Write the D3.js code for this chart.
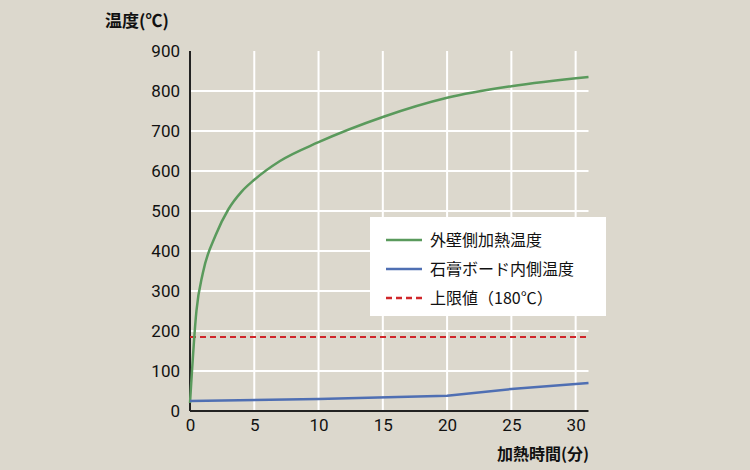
<!DOCTYPE html>
<html><head><meta charset="utf-8">
<script src="https://cdn.jsdelivr.net/npm/d3@7"></script>
<style>body{margin:0;background:#dcd8cd;}text{font-family:"Noto Sans CJK JP","Noto Sans",sans-serif;}</style>
</head><body><svg id="c" width="750" height="470"></svg>
<script>
const xTicks=[0,5,10,15,20,25,30];
const yTicks=[0,100,200,300,400,500,600,700,800,900];
const outerT=[0,0.5,1,2,3,4,5,7,10,15,20,25,31];
const outerV=[20,250,345,440,505,548,578,625,672,735,783,812,835];
const innerT=[0,10,20,25,31];
const innerV=[25,30,38,55,70];
const limitT=[0,31];
const limitV=[185,185];
const names=["外壁側加熱温度","石膏ボード内側温度","上限値（180℃）"];
const colors=["#5a9a5c","#4f6fb3","#d0262a"];

const svg=d3.select("#c");
svg.append("rect").attr("width",750).attr("height",470).attr("fill","#dcd8cd");
const x=d3.scaleLinear().domain([0,31]).range([190,588.5]);
const y=d3.scaleLinear().domain([0,900]).range([411,51]);
svg.append("g").selectAll("line").data(xTicks.slice(1)).join("line")
 .attr("x1",d=>x(d)).attr("x2",d=>x(d)).attr("y1",y(0)).attr("y2",y(900))
 .attr("stroke","#fff").attr("stroke-width",2);
svg.append("g").selectAll("line").data(yTicks.slice(1,-1)).join("line")
 .attr("x1",x(0)).attr("x2",x(31)).attr("y1",d=>y(d)).attr("y2",d=>y(d))
 .attr("stroke","#fff").attr("stroke-width",2);
const xa=svg.append("g").attr("transform",`translate(0,${y(0)})`).call(d3.axisBottom(x).tickValues(xTicks).tickSize(0).tickPadding(8));
const ya=svg.append("g").attr("transform",`translate(${x(0)},0)`).call(d3.axisLeft(y).tickValues(yTicks).tickSize(0).tickPadding(10));
[xa,ya].forEach(a=>{a.select(".domain").attr("stroke","#222").attr("stroke-width",2);a.selectAll("text").attr("font-size",17).attr("fill","#111").style("font-family","Roboto,'Noto Sans',sans-serif");});
ya.select(".domain").attr("d",`M0,${y(0)}V${y(900)}`);
xa.select(".domain").attr("d",`M${x(0)},0H${x(31)}`);
const line=d3.line().x(d=>x(d[0])).y(d=>y(d[1]));
svg.append("path").attr("d",line(limitT.map((t,i)=>[t,limitV[i]]))).attr("stroke",colors[2]).attr("stroke-width",2).attr("stroke-dasharray","6,4").attr("fill","none");
svg.append("path").attr("d",d3.line().x(d=>x(d[0])).y(d=>y(d[1])).curve(d3.curveMonotoneX)(outerT.map((t,i)=>[t,outerV[i]]))).attr("stroke",colors[0]).attr("stroke-width",2.5).attr("fill","none");
svg.append("path").attr("d",line(innerT.map((t,i)=>[t,innerV[i]]))).attr("stroke",colors[1]).attr("stroke-width",2.5).attr("fill","none");
svg.append("rect").attr("x",370).attr("y",217).attr("width",236).attr("height",99).attr("fill","#fff");
names.forEach((n,i)=>{
 const yy=240+i*29;
 svg.append("line").attr("x1",386).attr("x2",422).attr("y1",yy).attr("y2",yy).attr("stroke",colors[i]).attr("stroke-width",2.5).attr("stroke-dasharray",i==2?"6,4":null);
 svg.append("text").attr("x",430).attr("y",yy+6).attr("font-size",16).attr("fill","#111").text(n);
});
svg.append("text").attr("x",105).attr("y",27).attr("font-size",17).attr("font-weight","bold").attr("fill","#111").text("温度(℃)");
svg.append("text").attr("x",589).attr("y",460).attr("text-anchor","end").attr("font-size",16).attr("font-weight","bold").attr("fill","#111").text("加熱時間(分)");
</script></body></html>
